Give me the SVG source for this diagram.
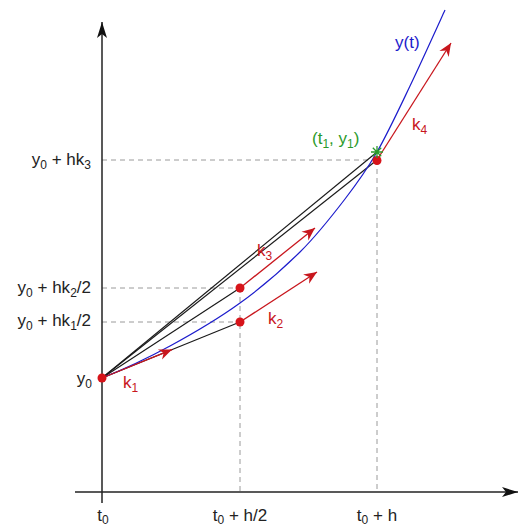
<svg xmlns="http://www.w3.org/2000/svg" width="519" height="529" viewBox="0 0 519 529">
<style>
text{font-family:"Liberation Sans",Arial,sans-serif;font-size:17px}
.lab{fill:#222}
.red{fill:#c8161d}
.sub{font-size:12px}
.dash{stroke:#9a9a9a;stroke-width:1;stroke-dasharray:5,4;fill:none}
.blk{stroke:#1a1a1a;stroke-width:1.2;fill:none}
.rarr{stroke:#c8161d;stroke-width:1.3;fill:none;marker-end:url(#rh)}
.dot{fill:#d7141a}
</style>
<defs>
<marker id="rh" markerUnits="userSpaceOnUse" markerWidth="16" markerHeight="12" viewBox="-14 -6 16 12" refX="0" refY="0" orient="auto">
<path d="M0,0 L-13,-5.5 L-9,0 L-13,5.5 Z" fill="#c8161d"/>
</marker>
<marker id="ah" markerUnits="userSpaceOnUse" markerWidth="18" markerHeight="12" viewBox="-17 -6 18 12" refX="0" refY="0" orient="auto">
<path d="M0,0 L-16,-5 L-12,0 L-16,5 Z" fill="#111"/>
</marker>
</defs>
<rect width="519" height="529" fill="#fff"/>
<g id="guides">
<path class="dash" d="M102,160 H377 M102,288 H240 M102,322 H240 M240,288 V492 M377,160 V492"/>
</g>
<g id="axes">
<line x1="102" y1="503" x2="102" y2="22" stroke="#222" stroke-width="1.5" marker-end="url(#ah)"/>
<line x1="75" y1="492" x2="518" y2="492" stroke="#222" stroke-width="1.5" marker-end="url(#ah)"/>
</g>
<g id="connectors">
<line class="blk" x1="102" y1="378" x2="240" y2="322"/>
<line class="blk" x1="102" y1="378" x2="240" y2="288"/>
<line class="blk" x1="102" y1="378" x2="377" y2="160"/>
<line class="blk" x1="102" y1="378" x2="377" y2="152"/>
<path id="curve" d="M102,378 C125,368.8 147,358.5 170,346 C193,333.5 218.3,318.7 240,303 C261.7,287.3 282.5,269.3 300,252 C317.5,234.7 332.2,215.7 345,199 C357.8,182.3 366.2,170.8 377,152 C387.8,133.2 398.7,109.7 410,86 C421.3,62.3 439.2,22.7 445,10" fill="none" stroke="#1c1ccc" stroke-width="1.2"/>
<line class="rarr" x1="102" y1="378" x2="172" y2="349.6"/>
<line class="rarr" x1="240" y1="322" x2="317" y2="272"/>
<line class="rarr" x1="240" y1="288" x2="315" y2="228"/>
<line class="rarr" x1="377" y1="160" x2="451" y2="43"/>
</g>
<g id="p0"><circle class="dot" cx="102" cy="378" r="4.5"/></g>
<g id="p1"><circle class="dot" cx="240" cy="322" r="4.5"/></g>
<g id="p2"><circle class="dot" cx="240" cy="288" r="4.5"/></g>
<g id="p3"><circle class="dot" cx="377" cy="160.5" r="4.5"/></g>
<g id="p4"><path d="M371,152 H383 M377,146 V158 M372.8,147.8 L381.2,156.2 M381.2,147.8 L372.8,156.2" stroke="#2b9a2b" stroke-width="1.3"/></g>
<g id="labels">
<text class="lab" x="91" y="165" text-anchor="end">y<tspan class="sub" dy="4">0</tspan><tspan dy="-4"> + hk</tspan><tspan class="sub" dy="4">3</tspan></text>
<text class="lab" x="91" y="293" text-anchor="end">y<tspan class="sub" dy="4">0</tspan><tspan dy="-4"> + hk</tspan><tspan class="sub" dy="4">2</tspan><tspan dy="-4">/2</tspan></text>
<text class="lab" x="91" y="326" text-anchor="end">y<tspan class="sub" dy="4">0</tspan><tspan dy="-4"> + hk</tspan><tspan class="sub" dy="4">1</tspan><tspan dy="-4">/2</tspan></text>
<text class="lab" x="92" y="384" text-anchor="end">y<tspan class="sub" dy="4">0</tspan></text>
<text class="lab" x="103" y="521" text-anchor="middle">t<tspan class="sub" dy="3">0</tspan></text>
<text class="lab" x="240" y="521" text-anchor="middle">t<tspan class="sub" dy="3">0</tspan><tspan dy="-3"> + h/2</tspan></text>
<text class="lab" x="377" y="521" text-anchor="middle">t<tspan class="sub" dy="3">0</tspan><tspan dy="-3"> + h</tspan></text>
<text class="red" x="123" y="388">k<tspan class="sub" dy="4">1</tspan></text>
<text class="red" x="268" y="324">k<tspan class="sub" dy="4">2</tspan></text>
<text class="red" x="257" y="256">k<tspan class="sub" dy="4">3</tspan></text>
<text class="red" x="412" y="130">k<tspan class="sub" dy="4">4</tspan></text>
<text x="395" y="48" fill="#1c1ccc">y(t)</text>
<text x="312" y="144" fill="#2b9a2b">(t<tspan class="sub" dy="4">1</tspan><tspan dy="-4">, y</tspan><tspan class="sub" dy="4">1</tspan><tspan dy="-4">)</tspan></text>
</g>
</svg>
